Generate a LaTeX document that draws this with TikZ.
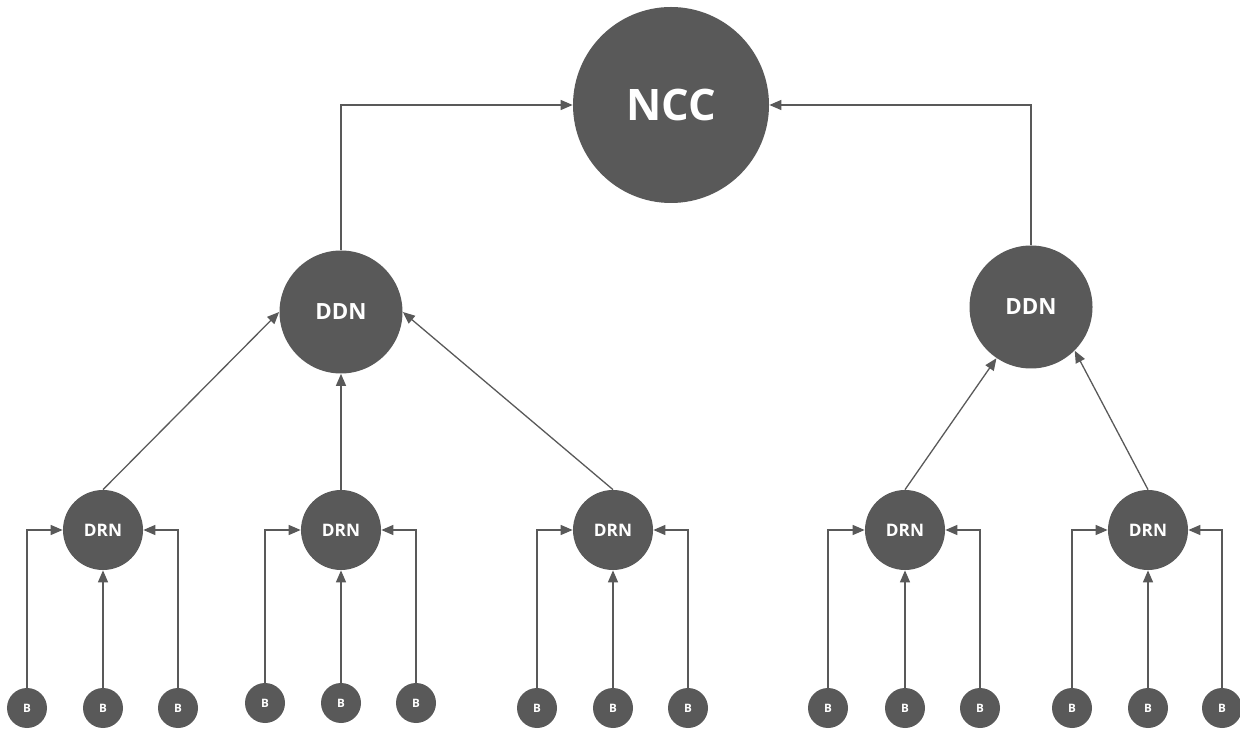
\documentclass[tikz,border=0pt]{standalone}
\usepackage{fontspec}
\setmainfont{Open Sans}
\usepackage{tikz}
\usetikzlibrary{arrows.meta}
\definecolor{nodegray}{HTML}{595959}
\tikzset{
  unit/.style={circle,fill=nodegray,text=white,inner sep=0pt,font=\bfseries},
  ncc/.style={unit,minimum size=39.2mm,font=\bfseries\fontsize{24.7}{28}\selectfont},
  ddn/.style={unit,minimum size=24.6mm,font=\bfseries\fontsize{12.7}{15}\selectfont},
  drn/.style={unit,minimum size=16mm,font=\bfseries\fontsize{9.8}{12}\selectfont},
  bnode/.style={unit,minimum size=8mm,font=\bfseries\fontsize{6.6}{8}\selectfont},
  link/.style={draw=nodegray,line width=0.74pt,-{Triangle[length=2.4mm,width=2mm]}}
}
\begin{document}
\begin{tikzpicture}[x=0.2mm,y=-0.2mm]
\useasboundingbox (0,0) rectangle (1240,729);
\node[ncc] (ncc) at (671,105) {NCC};
\node[ddn] (ddnl) at (341,312) {DDN};
\node[ddn] (ddnr) at (1031,307) {DDN};
\node[drn] (drna) at (103,530) {DRN};
\node[drn] (drnb) at (341,530) {DRN};
\node[drn] (drnc) at (613,530) {DRN};
\node[drn] (drnd) at (905,530) {DRN};
\node[drn] (drne) at (1148,530) {DRN};
%% B units
\node[bnode] (ba1) at (27,708) {B};
\node[bnode] (ba2) at (103,708) {B};
\node[bnode] (ba3) at (178,708) {B};
\node[bnode] (bb1) at (265,703) {B};
\node[bnode] (bb2) at (341,703) {B};
\node[bnode] (bb3) at (416,703) {B};
\node[bnode] (bc1) at (537,708) {B};
\node[bnode] (bc2) at (613,708) {B};
\node[bnode] (bc3) at (688,708) {B};
\node[bnode] (bd1) at (828,708) {B};
\node[bnode] (bd2) at (905,708) {B};
\node[bnode] (bd3) at (980,708) {B};
\node[bnode] (be1) at (1072,708) {B};
\node[bnode] (be2) at (1148,708) {B};
\node[bnode] (be3) at (1222,708) {B};
%% B to DRN
\foreach \g in {a,b,c,d,e}{
  \draw[link] (b\g1) |- (drn\g);
  \draw[link] (b\g2) -- (drn\g);
  \draw[link] (b\g3) |- (drn\g);
}
%% DRN to DDN
\draw[link] (drna.north) -- (ddnl.west);
\draw[link] (drnb) -- (ddnl);
\draw[link] (drnc.north) -- (ddnl.east);
\draw[link] (drnd.north) -- (ddnr.236);
\draw[link] (drne.north) -- (ddnr.315);
%% DDN to NCC
\draw[link] (ddnl) |- (ncc);
\draw[link] (ddnr) |- (ncc);
\end{tikzpicture}
\end{document}
